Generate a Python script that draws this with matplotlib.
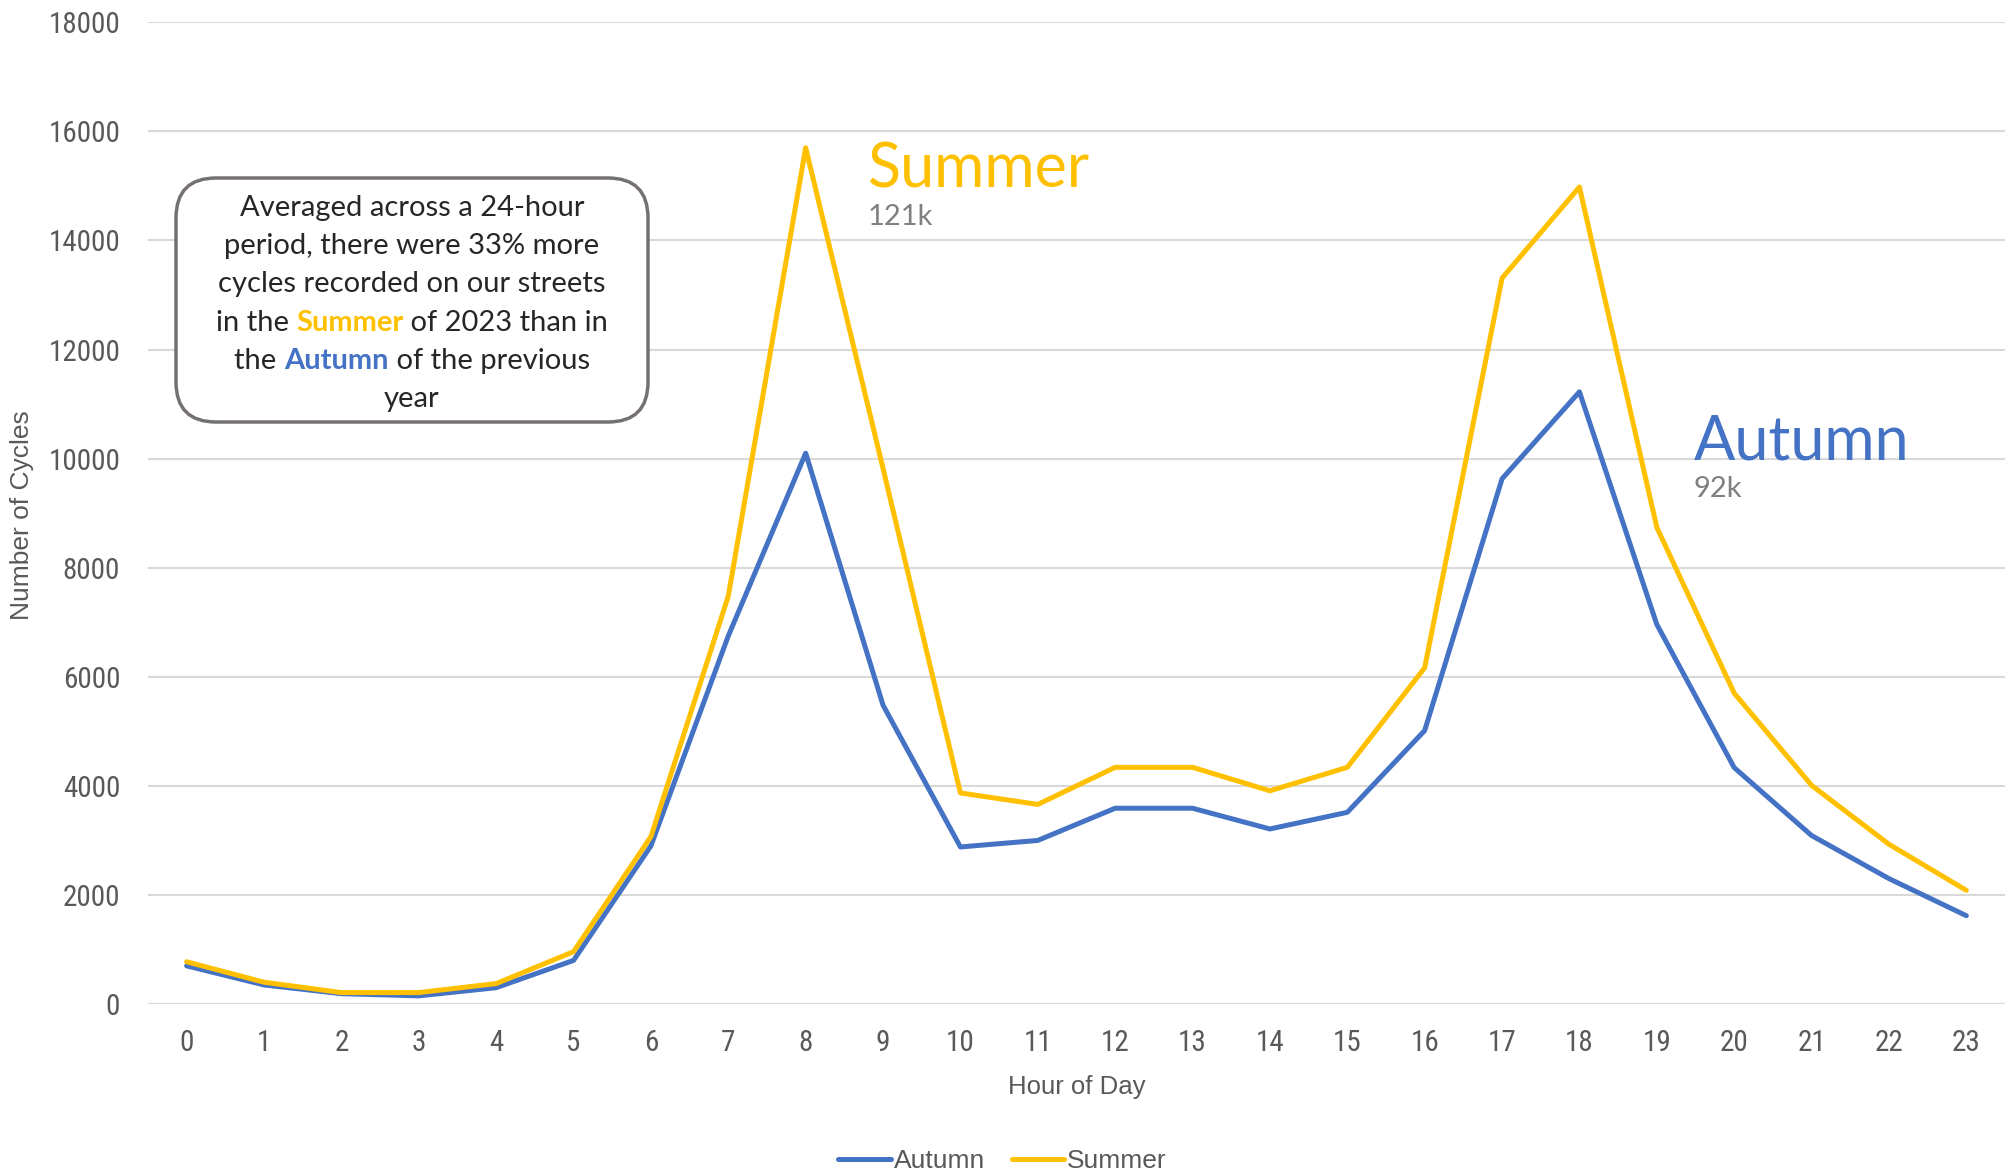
import matplotlib
matplotlib.use("Agg")
import matplotlib.pyplot as plt
from matplotlib import font_manager
from matplotlib.patches import FancyBboxPatch
from matplotlib.transforms import IdentityTransform

# data
hours = list(range(24))
autumn = [700, 350, 190, 150, 300, 800, 2900, 6750, 10100, 5480, 2880, 3000,
          3590, 3590, 3210, 3515, 5015, 9630, 11225, 6960, 4335, 3090, 2300, 1620]
summer = [775, 400, 210, 210, 375, 960, 3070, 7480, 15700, 9820, 3870, 3660,
          4340, 4340, 3910, 4340, 6165, 13310, 14980, 8740, 5700, 4010, 2930, 2085]
y_ticks = list(range(0, 18001, 2000))

blue = "#4472C4"
gold = "#FFC000"
txt_grey = "#595959"


def pick_font(names):
    for n in names:
        try:
            font_manager.findfont(n, fallback_to_default=False)
            return n
        except ValueError:
            continue
    return "DejaVu Sans"


narrow = pick_font(["Liberation Sans Narrow", "DejaVu Sans Condensed",
                    "Roboto Condensed", "Open Sans Condensed", "Roboto"])
tick_font = [narrow, "DejaVu Sans"]
label_font = ["Liberation Sans", "DejaVu Sans"]
note_font = ["Lato", "DejaVu Sans"]

fig = plt.figure(figsize=(20.05, 11.75), dpi=100)
ax = fig.add_axes([0.0738, 0.1455, 0.9262, 0.8355])

ax.plot(hours, autumn, color=blue, lw=3.6, label="Autumn", solid_capstyle="round")
ax.plot(hours, summer, color=gold, lw=3.6, label="Summer", solid_capstyle="round")

ax.set_xlim(-0.5, 23.5)
ax.set_ylim(0, 18000)
ax.set_xticks(hours)
ax.set_yticks(y_ticks)
ax.set_xticklabels([str(h) for h in hours], family=tick_font, fontsize=21, color=txt_grey)
ax.set_yticklabels([str(v) for v in y_ticks], family=tick_font, fontsize=21, color=txt_grey)
ax.tick_params(axis="y", length=0, pad=20)
ax.tick_params(axis="x", length=0, pad=18)
ax.grid(axis="y", color="#D9D9D9", lw=1.5)
ax.set_axisbelow(True)
for s in ax.spines.values():
    s.set_visible(False)

ax.set_xlabel("Hour of Day", family=label_font, fontsize=18.5, color=txt_grey, labelpad=13)
fig.text(0.011, 0.562, "Number of Cycles", rotation=90, ha="center", va="center",
         family=label_font, fontsize=19, color=txt_grey)

leg = fig.legend(loc="center", bbox_to_anchor=(0.50, 0.012), ncol=2, frameon=False,
                 prop={"family": label_font, "size": 19}, handlelength=2.0,
                 handletextpad=0.1, columnspacing=1.0)
for t in leg.get_texts():
    t.set_color(txt_grey)

# series annotations
ax.text(8.8, 14975, "Summer", color=gold, family=note_font, fontsize=44)
ax.text(8.8, 14280, "121k", color="#808080", family=note_font, fontsize=21)
ax.text(19.48, 9990, "Autumn", color=blue, family=note_font, fontsize=44)
ax.text(19.48, 9293, "92k", color="#808080", family=note_font, fontsize=21)

# note box (pixel coordinates)
box = FancyBboxPatch((176, 753), 472, 244, boxstyle="round,pad=0,rounding_size=40",
                     transform=IdentityTransform(), facecolor="white",
                     edgecolor="#767171", lw=2.5, zorder=5)
fig.patches.append(box)

lines = [
    [("Averaged across a 24-hour", "#262626", "normal")],
    [("period, there were 33% more", "#262626", "normal")],
    [("cycles recorded on our streets", "#262626", "normal")],
    [("in the ", "#262626", "normal"), ("Summer", gold, "bold"), (" of 2023 than in", "#262626", "normal")],
    [("the ", "#262626", "normal"), ("Autumn", blue, "bold"), (" of the previous", "#262626", "normal")],
    [("year", "#262626", "normal")],
]
cx = 412
ys = [967, 929, 891, 852, 814, 776]
renderer = fig.canvas.get_renderer()
for parts, y in zip(lines, ys):
    objs = []
    for s, c, w in parts:
        t = fig.text(0, y, s, color=c, fontweight=w, family=note_font, fontsize=21,
                     transform=IdentityTransform(), va="center", zorder=6)
        objs.append(t)
    widths = [o.get_window_extent(renderer).width for o in objs]
    x = cx - sum(widths) / 2
    for o, w in zip(objs, widths):
        o.set_x(x)
        x += w

fig.savefig("out.png", dpi=100)
